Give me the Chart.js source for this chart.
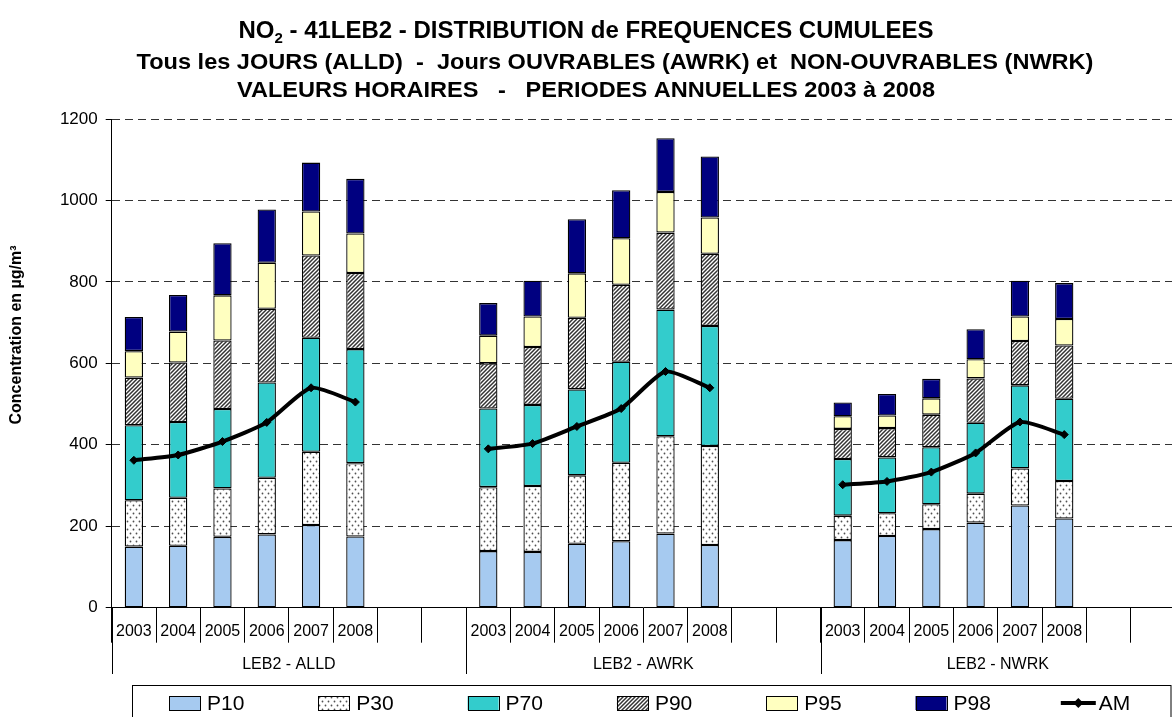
<!DOCTYPE html>
<html>
<head>
<meta charset="utf-8">
<script src="https://cdn.jsdelivr.net/npm/chart.js@4.4.1/dist/chart.umd.min.js"></script>
<style>
    html, body { margin: 0; padding: 0; overflow: hidden; background: #fff; }
    #wrap { width: 1180px; height: 717px; }
</style>
</head>
<body>
<div id="wrap"><canvas id="myChart" width="1180" height="717"></canvas></div>
<script>
// values per group: ALLD, AWRK, NWRK (6 years each), stacked segment heights
const years = ['2003', '2004', '2005', '2006', '2007', '2008'];
const groups = ['LEB2 - ALLD', 'LEB2 - AWRK', 'LEB2 - NWRK'];
const yTicks = [0, 200, 400, 600, 800, 1000, 1200];

const p10 = [150, 152, 174, 180, 203, 175, 139, 137, 157, 163, 182, 154, 166, 176, 193, 209, 251, 219];
const p30 = [114, 118, 119, 139, 180, 180, 157, 162, 168, 193, 239, 243, 60, 56, 61, 71, 91, 92];
const p70 = [184, 186, 195, 234, 280, 280, 193, 199, 211, 248, 311, 295, 139, 137, 140, 174, 204, 202];
const p90 = [117, 146, 168, 181, 202, 187, 111, 142, 176, 189, 189, 177, 74, 72, 80, 109, 109, 131];
const p95 = [65, 76, 111, 113, 108, 97, 68, 75, 109, 114, 100, 89, 31, 31, 40, 47, 60, 65];
const p98 = [84, 90, 128, 131, 120, 134, 80, 88, 133, 118, 132, 150, 34, 53, 48, 74, 88, 88];
const am = [362, 375, 408, 455, 540, 505, 390, 403, 445, 489, 580, 540, 302, 310, 333, 380, 456, 425];

const FONT = '"Liberation Sans", Arial, sans-serif';

// 8 slots per group: 6 years + 2 empty
const pad = (vals) => groups.flatMap((g, i) => vals.slice(i * 6, i * 6 + 6).concat([null, null]));
const labels = groups.flatMap(() => years.concat(['', '']));

const makeDots = () => {
    const c = document.createElement('canvas');
    c.width = 6; c.height = 8;
    const x = c.getContext('2d');
    x.fillStyle = '#fff';
    x.fillRect(0, 0, 6, 8);
    x.fillStyle = '#505050';
    x.beginPath(); x.arc(1.5, 1.5, 0.9, 0, Math.PI * 2); x.fill();
    x.beginPath(); x.arc(4.5, 5.5, 0.9, 0, Math.PI * 2); x.fill();
    return x.createPattern(c, 'repeat');
}

const makeStripes = () => {
    const c = document.createElement('canvas');
    c.width = 4; c.height = 4;
    const x = c.getContext('2d');
    x.fillStyle = '#fff';
    x.fillRect(0, 0, 4, 4);
    x.strokeStyle = '#333';
    x.lineWidth = 1.5;
    x.beginPath();
    x.moveTo(0, 4); x.lineTo(4, 0);
    x.moveTo(-1, 1); x.lineTo(1, -1);
    x.moveTo(3, 5); x.lineTo(5, 3);
    x.stroke();
    return x.createPattern(c, 'repeat');
}

const barSet = (label, vals, fill) => ({
    type: 'bar',
    label,
    data: pad(vals),
    backgroundColor: fill,
    borderColor: '#000',
    borderWidth: 1.3,
    borderSkipped: false,
    stack: 'p',
    order: 1,
    barPercentage: 0.413,
    categoryPercentage: 1
});

// centered text, slightly widened like the original titles
const wideText = (ctx, text, x, y, sx) => {
    ctx.save();
    ctx.translate(x, y);
    ctx.scale(sx, 1);
    ctx.fillText(text, 0, 0);
    ctx.restore();
}

const decor = {
    id: 'decor',
    afterDraw(chart) {
        const { ctx, chartArea: a, scales: { x: xs } } = chart;
        const slot = (a.right - a.left) / labels.length;
        ctx.save();
        ctx.strokeStyle = '#000';
        ctx.lineWidth = 1;
        ctx.fillStyle = '#000';

        // group separators and group labels
        for (let g = 0; g <= groups.length; g++) {
            const gx = Math.round(a.left + g * 8 * slot) + 0.5;
            ctx.beginPath();
            ctx.moveTo(gx, a.bottom);
            ctx.lineTo(gx, 674);
            ctx.stroke();
        }
        ctx.font = `16px ${FONT}`;
        ctx.textAlign = 'center';
        ctx.textBaseline = 'middle';
        groups.forEach((g, i) => {
            const cx = (xs.getPixelForTick(i * 8) + xs.getPixelForTick(i * 8 + 7)) / 2;
            ctx.fillText(g, cx, 665);
        });

        // titles
        const cx = 586;
        ctx.textBaseline = 'alphabetic';
        ctx.textAlign = 'left';
        const big = `bold 24px ${FONT}`;
        const sub = `bold 15px ${FONT}`;
        const rest = ' - 41LEB2 - DISTRIBUTION de FREQUENCES CUMULEES';
        ctx.font = big;
        const wNO = ctx.measureText('NO').width;
        const wRest = ctx.measureText(rest).width;
        ctx.font = sub;
        const w2 = ctx.measureText('2').width;
        let tx = cx - (wNO + w2 + wRest) / 2;
        ctx.font = big;
        ctx.fillText('NO', tx, 38);
        ctx.font = sub;
        ctx.fillText('2', tx + wNO, 43);
        ctx.font = big;
        ctx.fillText(rest, tx + wNO + w2, 38);

        ctx.textAlign = 'center';
        ctx.font = `bold 22px ${FONT}`;
        wideText(ctx, 'Tous les JOURS (ALLD)  -  Jours OUVRABLES (AWRK) et  NON-OUVRABLES (NWRK)', 615, 69, 1.07);
        wideText(ctx, 'VALEURS HORAIRES   -   PERIODES ANNUELLES 2003 \u00e0 2008', cx, 97, 1.07);

        // y axis title
        ctx.save();
        ctx.translate(17, 335);
        ctx.rotate(-Math.PI / 2);
        ctx.font = `bold 16px ${FONT}`;
        ctx.textBaseline = 'middle';
        ctx.fillText('Concentration en \u00b5g/m\u00b3', 0, 0);
        ctx.restore();

        // legend
        ctx.strokeStyle = '#000';
        ctx.strokeRect(132.5, 685.5, 1038.5, 60);
        const ly = 703;
        ctx.font = `21px ${FONT}`;
        ctx.textAlign = 'left';
        ctx.textBaseline = 'middle';
        chart.data.datasets.forEach((ds, i) => {
            const bx = 169 + i * 149.3;
            if (ds.type === 'bar') {
                ctx.fillStyle = ds.backgroundColor;
                ctx.fillRect(bx, ly - 7, 31, 14);
                ctx.strokeRect(Math.round(bx) + 0.5, ly - 6.5, 31, 14);
                ctx.fillStyle = '#000';
                ctx.fillText(ds.label, bx + 38, ly + 1);
            } else {
                ctx.lineWidth = 4;
                ctx.beginPath();
                ctx.moveTo(bx - 4, ly);
                ctx.lineTo(bx + 31, ly);
                ctx.stroke();
                ctx.fillStyle = '#000';
                ctx.beginPath();
                ctx.moveTo(bx + 13.5, ly - 5);
                ctx.lineTo(bx + 18.5, ly);
                ctx.lineTo(bx + 13.5, ly + 5);
                ctx.lineTo(bx + 8.5, ly);
                ctx.closePath();
                ctx.fill();
                ctx.fillText(ds.label, bx + 34, ly + 1);
            }
        });
        ctx.restore();
    }
};

const main = () => {
    const data = {
        labels,
        datasets: [
            barSet('P10', p10, '#A6CAF0'),
            barSet('P30', p30, makeDots()),
            barSet('P70', p70, '#33CCCC'),
            barSet('P90', p90, makeStripes()),
            barSet('P95', p95, '#FFFFC0'),
            barSet('P98', p98, '#000080'),
            {
                type: 'line',
                label: 'AM',
                data: pad(am),
                borderColor: '#000',
                backgroundColor: '#000',
                borderWidth: 4,
                pointStyle: 'rectRot',
                pointRadius: 4,
                pointBackgroundColor: '#000',
                pointBorderColor: '#000',
                pointBorderWidth: 1,
                tension: 0.2,
                spanGaps: false,
                stack: 'am',
                order: 0
            }
        ]
    };

    const config = {
        type: 'bar',
        data,
        options: {
            responsive: false,
            animation: false,
            devicePixelRatio: 1,
            layout: { padding: { top: 119, bottom: 39.3, left: 0, right: 0 } },
            plugins: {
                legend: { display: false },
                title: { display: false },
                tooltip: { enabled: false }
            },
            scales: {
                x: {
                    stacked: true,
                    grid: { offset: true, drawOnChartArea: false, drawTicks: true, tickLength: 35, color: '#000' },
                    border: { display: true, color: '#000', width: 1 },
                    ticks: { autoSkip: false, maxRotation: 0, padding: -20.6, color: '#000', font: { family: FONT, size: 16 } },
                    afterFit: (s) => { s.height = 70; }
                },
                y: {
                    stacked: true,
                    min: 0,
                    max: 1200,
                    afterBuildTicks: (s) => { s.ticks = yTicks.map((v) => ({ value: v })); },
                    ticks: { padding: 8, color: '#000', font: { family: FONT, size: 17 }, callback: (v) => String(v) },
                    grid: { color: '#333', tickColor: '#000', tickLength: 6, tickBorderDash: [] },
                    border: { display: true, color: '#000', width: 1, dash: [8, 5] },
                    afterFit: (s) => { s.width = 111.7; }
                }
            }
        },
        plugins: [decor]
    };

    new Chart(document.getElementById('myChart'), config);
}

window.onload = () => main()
</script>
</body>
</html>
